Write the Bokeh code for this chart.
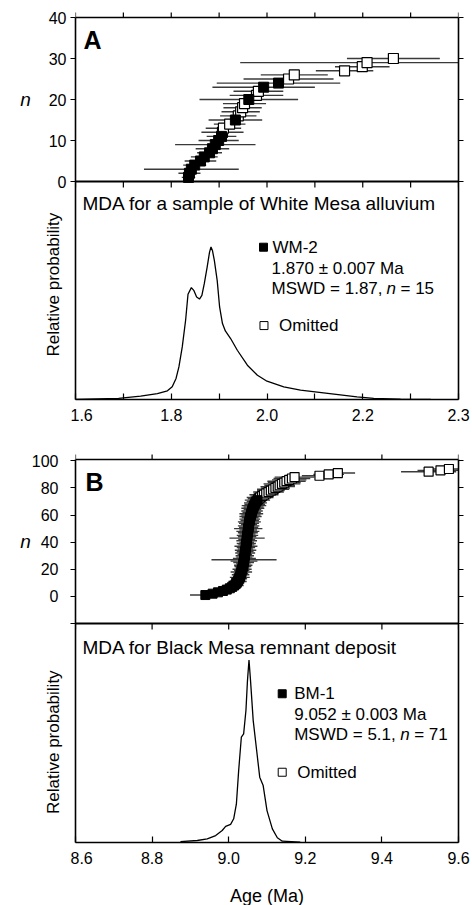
import math
from bokeh.plotting import figure
from bokeh.models import FixedTicker, LinearAxis, Range1d, Span
from bokeh.layouts import column, row
from bokeh.core.properties import value
from bokeh.embed import file_html
from bokeh.resources import INLINE

FONT = "Liberation Sans"

# ---------------- Panel A data (White Mesa, WM-2) ----------------
nA = list(range(1, 31))
ageA = [1.836, 1.838, 1.842, 1.849, 1.861, 1.869, 1.880, 1.886, 1.892, 1.899,
        1.905, 1.907, 1.909, 1.922, 1.934, 1.940, 1.945, 1.949, 1.953, 1.962,
        1.978, 1.982, 1.993, 2.024, 2.045, 2.057, 2.162, 2.199, 2.209, 2.264]
errA = [0.014, 0.023, 0.099, 0.024, 0.033, 0.028, 0.026, 0.035, 0.084, 0.042,
        0.031, 0.044, 0.037, 0.033, 0.056, 0.038, 0.040, 0.040, 0.045, 0.103,
        0.056, 0.052, 0.107, 0.129, 0.094, 0.070, 0.060, 0.057, 0.265, 0.097]
usedA = [1, 1, 1, 1, 1, 1, 1, 1, 1, 1,
         1, 0, 0, 0, 1, 0, 0, 0, 0, 1,
         0, 0, 1, 1, 0, 0, 0, 0, 0, 0]

densA_age = [1.600, 1.690, 1.736, 1.771, 1.792, 1.802, 1.810, 1.816, 1.823, 1.830,
             1.835, 1.842, 1.847, 1.853, 1.859, 1.864, 1.869, 1.875, 1.880, 1.883,
             1.886, 1.890, 1.896, 1.901, 1.907, 1.913, 1.924, 1.938, 1.959, 1.980,
             2.000, 2.035, 2.070, 2.140, 2.188, 2.223, 2.279, 2.342]
densA_rel = [0.0, 0.007, 0.022, 0.039, 0.057, 0.083, 0.138, 0.214, 0.345, 0.520,
             0.690, 0.734, 0.716, 0.672, 0.659, 0.683, 0.760, 0.869, 0.967, 1.0,
             0.978, 0.913, 0.780, 0.607, 0.498, 0.450, 0.400, 0.323, 0.225, 0.159,
             0.120, 0.083, 0.061, 0.035, 0.017, 0.007, 0.002, 0.0]

ticksA = [1.6, 1.7, 1.8, 1.9, 2.0, 2.1, 2.2, 2.3, 2.4]
tick_labelsA = ["1.6", "", "1.8", "", "2.0", "", "2.2", "", "2.3"]
nticksA = [0, 10, 20, 30, 40]
ntick_labelsA = ["0", "10", "20", "30", "40"]

# ---------------- Panel B data (Black Mesa, BM-1) ----------------
nB = list(range(1, 95))
ageB = [8.939, 8.958, 8.972, 8.985, 8.995, 9.003, 9.009, 9.014, 9.018, 9.021,
        9.023, 9.025, 9.027, 9.029, 9.030, 9.031, 9.032, 9.033, 9.034, 9.035,
        9.036, 9.037, 9.038, 9.038, 9.039, 9.040, 9.040, 9.041, 9.041, 9.042,
        9.042, 9.043, 9.043, 9.044, 9.044, 9.045, 9.045, 9.046, 9.046, 9.047,
        9.047, 9.047, 9.048, 9.048, 9.049, 9.049, 9.050, 9.050, 9.051, 9.051,
        9.052, 9.052, 9.053, 9.053, 9.054, 9.055, 9.055, 9.056, 9.057, 9.058,
        9.059, 9.060, 9.061, 9.062, 9.063, 9.065, 9.066, 9.068, 9.070, 9.072,
        9.075, 9.078, 9.082, 9.087, 9.092, 9.098, 9.104, 9.110, 9.116, 9.122,
        9.128, 9.133, 9.139, 9.145, 9.151, 9.158, 9.165, 9.172,
        9.237, 9.261, 9.285, 9.522, 9.553, 9.575]
errB = [0.040, 0.022, 0.018, 0.020, 0.016, 0.022, 0.018, 0.025, 0.015, 0.020,
        0.024, 0.018, 0.021, 0.026, 0.017, 0.023, 0.019, 0.028, 0.020, 0.025,
        0.018, 0.022, 0.024, 0.019, 0.027, 0.035, 0.085, 0.030, 0.021, 0.024,
        0.019, 0.026, 0.022, 0.028, 0.020, 0.024, 0.030, 0.021, 0.025, 0.019,
        0.027, 0.022, 0.046, 0.024, 0.028, 0.021, 0.026, 0.030, 0.023, 0.037,
        0.025, 0.028, 0.021, 0.026, 0.030, 0.024, 0.027, 0.022, 0.029, 0.025,
        0.031, 0.024, 0.028, 0.023, 0.030, 0.026, 0.032, 0.027, 0.030, 0.025,
        0.033, 0.028, 0.035, 0.030, 0.038, 0.033, 0.040, 0.036, 0.042, 0.038,
        0.045, 0.040, 0.048, 0.043, 0.050, 0.045, 0.048, 0.052,
        0.046, 0.040, 0.045, 0.072, 0.060, 0.055]
usedB = [1 if k <= 71 else 0 for k in nB]

densB_age = [8.874, 8.918, 8.944, 8.966, 8.983, 8.992, 9.005, 9.013, 9.020, 9.026,
             9.033, 9.039, 9.045, 9.049, 9.053, 9.057, 9.064, 9.073, 9.081, 9.090,
             9.100, 9.114, 9.127, 9.140, 9.187]
densB_rel = [0.005, 0.011, 0.020, 0.038, 0.066, 0.088, 0.099, 0.130, 0.210, 0.394,
             0.577, 0.595, 0.723, 0.887, 1.0, 0.887, 0.668, 0.504, 0.358, 0.312,
             0.175, 0.075, 0.026, 0.007, 0.002]

ticksB = [8.6, 8.8, 9.0, 9.2, 9.4, 9.6]
tick_labelsB = ["8.6", "8.8", "9.0", "9.2", "9.4", "9.6"]
nticksB = [-20, 0, 20, 40, 60, 80, 100]
ntick_labelsB = ["", "0", "20", "40", "60", "80", "100"]

# ---------------- layout constants (pixels) ----------------
FW = 383      # frame width
SW = 70       # width of the left strip carrying n labels and side titles
LB = 5        # left border of main figure (outward ticks)
RB = 12       # right border
EXTRA = 10    # white space kept inside the frame above the box (room for top ticks)


def axis_style(ax):
    ax.axis_line_width = 1.6
    ax.axis_line_color = "black"
    ax.major_tick_line_width = 1.2
    ax.major_tick_line_color = "black"
    ax.minor_tick_line_width = 1.2
    ax.minor_tick_line_color = None
    ax.major_label_text_font = FONT
    ax.major_label_text_font_size = "16px"
    ax.major_label_text_color = "black"
    ax.axis_label_text_font = FONT
    ax.axis_label_text_font_style = "normal"
    ax.axis_label_text_color = "black"


def make_tick_only(ax, ticks, bounds):
    # axis drawing its rule and outward tick marks (as minor ticks), no labels
    ax.ticker = FixedTicker(ticks=[], minor_ticks=ticks)
    axis_style(ax)
    ax.bounds = bounds
    ax.major_tick_line_color = None
    ax.minor_tick_line_color = "black"
    ax.minor_tick_out = 5
    ax.minor_tick_in = 0
    ax.major_label_standoff = 0
    return ax


def strip_text(s, x, y, txt, size="16px", style="normal", align="right", angle=0.0, rng="default"):
    s.text(x=[x], y=[y], text=[txt], text_font=value(FONT),
           text_font_size=value(size), text_font_style=value(style),
           text_color="black", text_align=align, text_baseline="middle",
           angle=angle, y_range_name=rng)


def panel(xr, xticks, xlabels, nticks, nlabels, n_top, n_bound, sc_px, de_px,
          dens_top, ages, errs, ns, used, d_age, d_rel, sq, mt, mb, xlabel,
          label_right, relprob_frac):
    # box: scatter part sc_px high on top, density part de_px below
    npp = (n_top - n_bound) / sc_px
    n_bottom = n_bound - de_px * npp
    fh = sc_px + de_px + EXTRA
    yr = Range1d(n_bottom, n_top + EXTRA * npp)
    dpp = dens_top / de_px
    dr = Range1d(0, dens_top + (sc_px + EXTRA) * dpp)

    p = figure(frame_width=FW, frame_height=fh, x_range=xr, y_range=yr,
               output_backend="svg", toolbar_location=None,
               min_border_left=LB, min_border_right=RB,
               min_border_top=mt - EXTRA, min_border_bottom=mb)
    p.extra_y_ranges = {"dens": dr}
    p.xgrid.visible = False
    p.ygrid.visible = False
    p.outline_line_color = None
    p.background_fill_color = "white"
    p.border_fill_color = "white"

    # bottom axis with labels, ticks pointing in
    xa = p.xaxis[0]
    axis_style(xa)
    xa.ticker = FixedTicker(ticks=xticks)
    xa.major_label_overrides = {t: l for t, l in zip(xticks, xlabels)}
    xa.major_tick_in = 6
    xa.major_tick_out = 0
    xa.major_label_standoff = 9
    if xlabel:
        xa.axis_label = xlabel
        xa.axis_label_text_font_size = "18px"
        xa.axis_label_standoff = 19

    # left and right rules with outward n ticks, limited to the box
    make_tick_only(p.yaxis[0], nticks, (n_bottom, n_top))
    p.add_layout(make_tick_only(LinearAxis(), nticks, (n_bottom, n_top)), "right")

    # top edge of the box and outward ticks on it
    p.add_layout(Span(location=n_top, dimension="width", line_color="black",
                      line_width=1.6))
    p.segment(x0=xticks, x1=xticks, y0=[n_top] * len(xticks),
              y1=[n_top + 5 * npp] * len(xticks), line_color="black", line_width=1.2)

    # boundary between the two parts, with ticks pointing down
    p.add_layout(Span(location=n_bound, dimension="width", line_color="black",
                      line_width=1.8))
    p.segment(x0=xticks, x1=xticks, y0=[n_bound] * len(xticks),
              y1=[n_bound - 6 * npp] * len(xticks), line_color="black", line_width=1.2)

    # error bars and squares
    lo = [a - e for a, e in zip(ages, errs)]
    hi = [a + e for a, e in zip(ages, errs)]
    p.segment(x0=lo, x1=hi, y0=ns, y1=ns, line_color="#3a3a3a", line_width=1.4)
    fx = [a for a, u in zip(ages, used) if u]
    fy = [n for n, u in zip(ns, used) if u]
    ox = [a for a, u in zip(ages, used) if not u]
    oy = [n for n, u in zip(ns, used) if not u]
    p.scatter(ox, oy, marker="square", size=sq, fill_color="white",
              line_color="black", line_width=1.2)
    p.scatter(fx, fy, marker="square", size=sq, fill_color="black",
              line_color="black", line_width=1)

    # probability curve
    p.line(d_age, d_rel, line_color="black", line_width=1.3, y_range_name="dens")

    # left strip: same vertical structure and ranges as the main figure
    s = figure(frame_width=SW, frame_height=fh, x_range=Range1d(0, SW), y_range=yr,
               output_backend="svg", toolbar_location=None,
               min_border_left=0, min_border_right=0,
               min_border_top=mt - EXTRA, min_border_bottom=mb,
               x_axis_location=None, y_axis_location=None)
    s.extra_y_ranges = {"dens": dr}
    s.xgrid.visible = False
    s.ygrid.visible = False
    s.outline_line_color = None
    s.background_fill_color = "white"
    s.border_fill_color = "white"
    for t, l in zip(nticks, nlabels):
        if l:
            strip_text(s, label_right, t, l)
    strip_text(s, 25, (n_top + n_bound) / 2, "n", size="19px", style="italic", align="center")
    strip_text(s, 53, dens_top * relprob_frac, "Relative probability", size="17px",
               align="center", angle=math.pi / 2, rng="dens")
    return row(s, p, spacing=0)


def add_text(p, x, y, txt, size="17px", style="normal", dx=0, dy=0, rng="default"):
    p.text(x=[x], y=[y], text=[txt], text_font=value(FONT),
           text_font_size=value(size), text_font_style=value(style),
           text_color="black", text_align="left", text_baseline="middle",
           x_offset=dx, y_offset=dy, y_range_name=rng)


# ---------------- Panel A ----------------
rowA = panel(Range1d(1.6, 2.4), ticksA, tick_labelsA, nticksA, ntick_labelsA,
             40, 0, 164, 218, 1.43, ageA, errA, nA, usedA, densA_age, densA_rel,
             10, 17, 40, None, 66, 0.527)
pA = rowA.children[1]
add_text(pA, 1.6167, 34.4, "A", size="25px", style="bold")
add_text(pA, 1.6146, 1.284, "MDA for a sample of White Mesa alluvium", size="19px", rng="dens")
pA.scatter([1.9927], [0.999], marker="square", size=8, fill_color="black",
           line_color="black", y_range_name="dens")
add_text(pA, 1.9927, 0.999, "WM-2", dx=9, rng="dens")
add_text(pA, 1.9927, 0.999, "1.870 \u00b1 0.007 Ma", dx=8, dy=21, rng="dens")
add_text(pA, 1.9927, 0.999, "MSWD = 1.87,", dx=8, dy=41, rng="dens")
add_text(pA, 1.9927, 0.999, "n", style="italic", dx=123, dy=41, rng="dens")
add_text(pA, 1.9927, 0.999, "= 15", dx=137, dy=41, rng="dens")
pA.scatter([1.9937], [0.485], marker="square", size=8, fill_color="white",
           line_color="black", line_width=1, y_range_name="dens")
add_text(pA, 1.9937, 0.485, "Omitted", dx=15, rng="dens")

# ---------------- Panel B ----------------
rowB = panel(Range1d(8.6, 9.6), ticksB, tick_labelsB, nticksB, ntick_labelsB,
             101, -20, 164, 219, 1.2, ageB, errB, nB, usedB, densB_age, densB_rel,
             9, 20, 60, "Age (Ma)", 58, 0.458)
pB = rowB.children[1]
add_text(pB, 8.626, 84.7, "B", size="25px", style="bold")
add_text(pB, 8.618, 1.070, "MDA for Black Mesa remnant deposit", size="19px", rng="dens")
pB.scatter([9.1397], [0.815], marker="square", size=8, fill_color="black",
           line_color="black", y_range_name="dens")
add_text(pB, 9.1397, 0.815, "BM-1", dx=12, rng="dens")
add_text(pB, 9.1397, 0.815, "9.052 \u00b1 0.003 Ma", dx=12, dy=21, rng="dens")
add_text(pB, 9.1397, 0.815, "MSWD = 5.1,", dx=12, dy=41, rng="dens")
add_text(pB, 9.1397, 0.815, "n", style="italic", dx=118, dy=41, rng="dens")
add_text(pB, 9.1397, 0.815, "= 71", dx=132, dy=41, rng="dens")
pB.scatter([9.1397], [0.385], marker="square", size=8, fill_color="white",
           line_color="black", line_width=1, y_range_name="dens")
add_text(pB, 9.1397, 0.385, "Omitted", dx=15, rng="dens")

layout = column(rowA, rowB, spacing=0)
open("out.html", "w").write(file_html(layout, INLINE))
